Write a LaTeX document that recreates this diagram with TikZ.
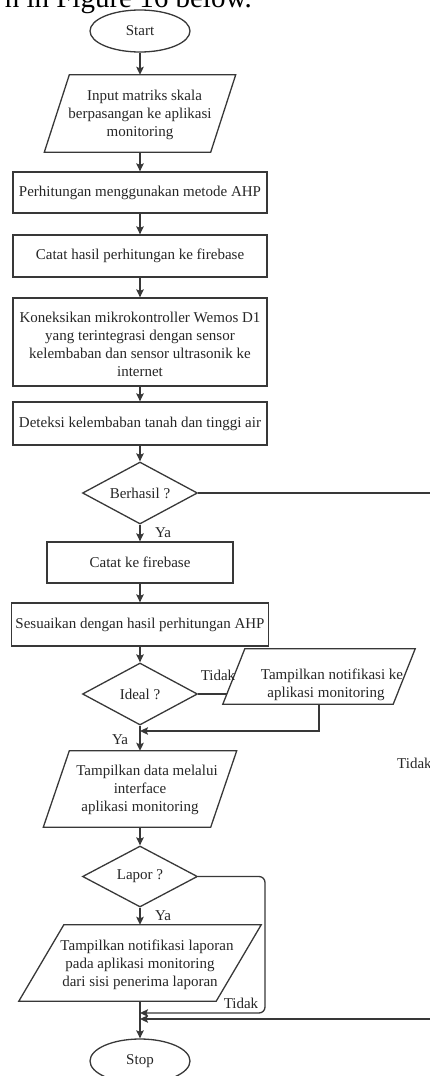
\documentclass[tikz,border=0pt]{standalone}
\usepackage{fontspec}
\setmainfont{Liberation Serif}
\usetikzlibrary{shapes.geometric,arrows.meta,calc}
\newcommand{\paraframe}[2]{%
  \draw[line] ([xshift=#2]#1.north west) -- ([xshift=#2]#1.north east)
    -- ([xshift=-#2]#1.south east) -- ([xshift=-#2]#1.south west) -- cycle;}
\begin{document}
\begin{tikzpicture}[x=1pt,y=-1pt,
  line/.style={draw=black!78, line width=1.3pt},
  arr/.style={line, -{Stealth[length=8pt,width=7.5pt,inset=1.5pt]}},
  txt/.style={font=\fontsize{15}{18}\selectfont, text=black!85, align=center, inner sep=0pt},
  proc/.style={rectangle, line, txt},
  term/.style={ellipse, line, txt, minimum width=100pt, minimum height=42pt},
  dec/.style={diamond, line, txt, aspect=2, minimum width=115pt, minimum height=62pt},
  iobox/.style={rectangle, inner sep=0pt},
  lbl/.style={font=\fontsize{15}{18}\selectfont, text=black!85, inner sep=0pt}
]
\useasboundingbox (0,0) rectangle (430,1076);
\clip (0,0) rectangle (430,1076);

% cropped caption line at the top
\node[anchor=base east, font=\fontsize{29}{30}\selectfont, inner sep=0pt] (head) at (252,7) {n in Figure 16 below.};

% nodes
\node[term] (start) at (140,31) {Start};

\node[iobox, minimum width=166pt, minimum height=77pt] (input) at (140,113.5) {};
\paraframe{input}{12.5pt}
\node[txt] (inputT) at (140,115) {\hspace*{9pt}Input matriks skala\\berpasangan ke aplikasi\\monitoring};

\node[proc, minimum width=254pt, minimum height=41pt] (hitung) at (140,192.5) {Perhitungan menggunakan metode AHP};
\node[proc, minimum width=254pt, minimum height=42pt] (catat1) at (140,256) {Catat hasil perhitungan ke firebase};
\node[proc, minimum width=254pt, minimum height=88pt] (koneksi) at (140,342) {};
\node[txt] (koneksiT) at (140,344) {Koneksikan mikrokontroller Wemos D1\\yang terintegrasi dengan sensor\\kelembaban dan sensor ultrasonik ke\\internet};
\node[proc, minimum width=254pt, minimum height=43pt] (deteksi) at (140,423.5) {Deteksi kelembaban tanah dan tinggi air};

\node[dec] (berhasil) at (140,493) {Berhasil ?};

\node[proc, minimum width=186pt, minimum height=41pt] (catat2) at (140,562.5) {Catat ke firebase};
\node[proc, minimum width=257pt, minimum height=43pt] (sesuai) at (140,624.5) {Sesuaikan dengan hasil perhitungan AHP};

\node[dec] (ideal) at (140,694) {Ideal ?};

\node[iobox, minimum width=170pt, minimum height=55pt] (notif) at (319,676.5) {};
\paraframe{notif}{11pt}
\node[txt] (notifT) at (326,685) {\hspace*{12pt}Tampilkan notifikasi ke\\aplikasi monitoring};

\node[iobox, minimum width=167pt, minimum height=76pt] (data) at (140,789) {};
\paraframe{data}{13pt}
\node[txt] (dataT) at (140,790) {\hspace*{14pt}Tampilkan data melalui\\interface\hspace*{20pt}\\aplikasi monitoring};

\node[dec, minimum height=61pt] (lapor) at (140,876.5) {Lapor ?};

\node[iobox, minimum width=197pt, minimum height=76pt] (laporan) at (140,963) {};
\paraframe{laporan}{22.5pt}
\node[txt] (laporanT) at (140,965) {\hspace*{14pt}Tampilkan notifikasi laporan\\pada aplikasi monitoring\\dari sisi penerima laporan};

\node[term, minimum height=44pt] (stop) at (140,1061) {Stop};

% junctions and bends
\coordinate (notifL) at ($([xshift=11pt]notif.north west)!0.818!([xshift=-11pt]notif.south west)$);
\coordinate (jN) at (140,731);
\coordinate (cR) at (450,493);
\coordinate (jB) at (140,1019);
\coordinate (cL) at (265,1013);
\coordinate (jL) at (140,1013);

% connectors
\draw[arr] (start.south) -- (input.north);
\draw[arr] (input.south) -- (hitung.north);
\draw[arr] (hitung.south) -- (catat1.north);
\draw[arr] (catat1.south) -- (koneksi.north);
\draw[arr] (koneksi.south) -- (deteksi.north);
\draw[arr] (deteksi.south) -- (berhasil.north);
\draw[arr] (berhasil.south) -- (catat2.north);
\draw[arr] (catat2.south) -- (sesuai.north);
\draw[arr] (sesuai.south) -- (ideal.north);
\draw[line] (ideal.east) -- (ideal.east -| notifL);
\draw[arr] (notif.south) |- (jN);
\draw[arr] (ideal.south) -- (data.north);
\draw[arr] (data.south) -- (lapor.north);
\draw[arr] (lapor.south) -- (laporan.north);
\draw[arr] (laporan.south) -- (stop.north);
\draw[arr, rounded corners=6pt] (lapor.east) -| (cL) -- (jL);
\draw[arr] (berhasil.east) -- (cR) |- (jB);

% labels
\node[lbl] (ya1) at (163,533) {Ya};
\node[lbl] (tidak1) at (218,675) {Tidak};
\node[lbl] (ya2) at (120,740) {Ya};
\node[lbl, anchor=west] (tidak0) at (397,763) {Tidak};
\node[lbl] (ya3) at (163,916) {Ya};
\node[lbl] (tidak2) at (241,1003) {Tidak};
\end{tikzpicture}
\end{document}
